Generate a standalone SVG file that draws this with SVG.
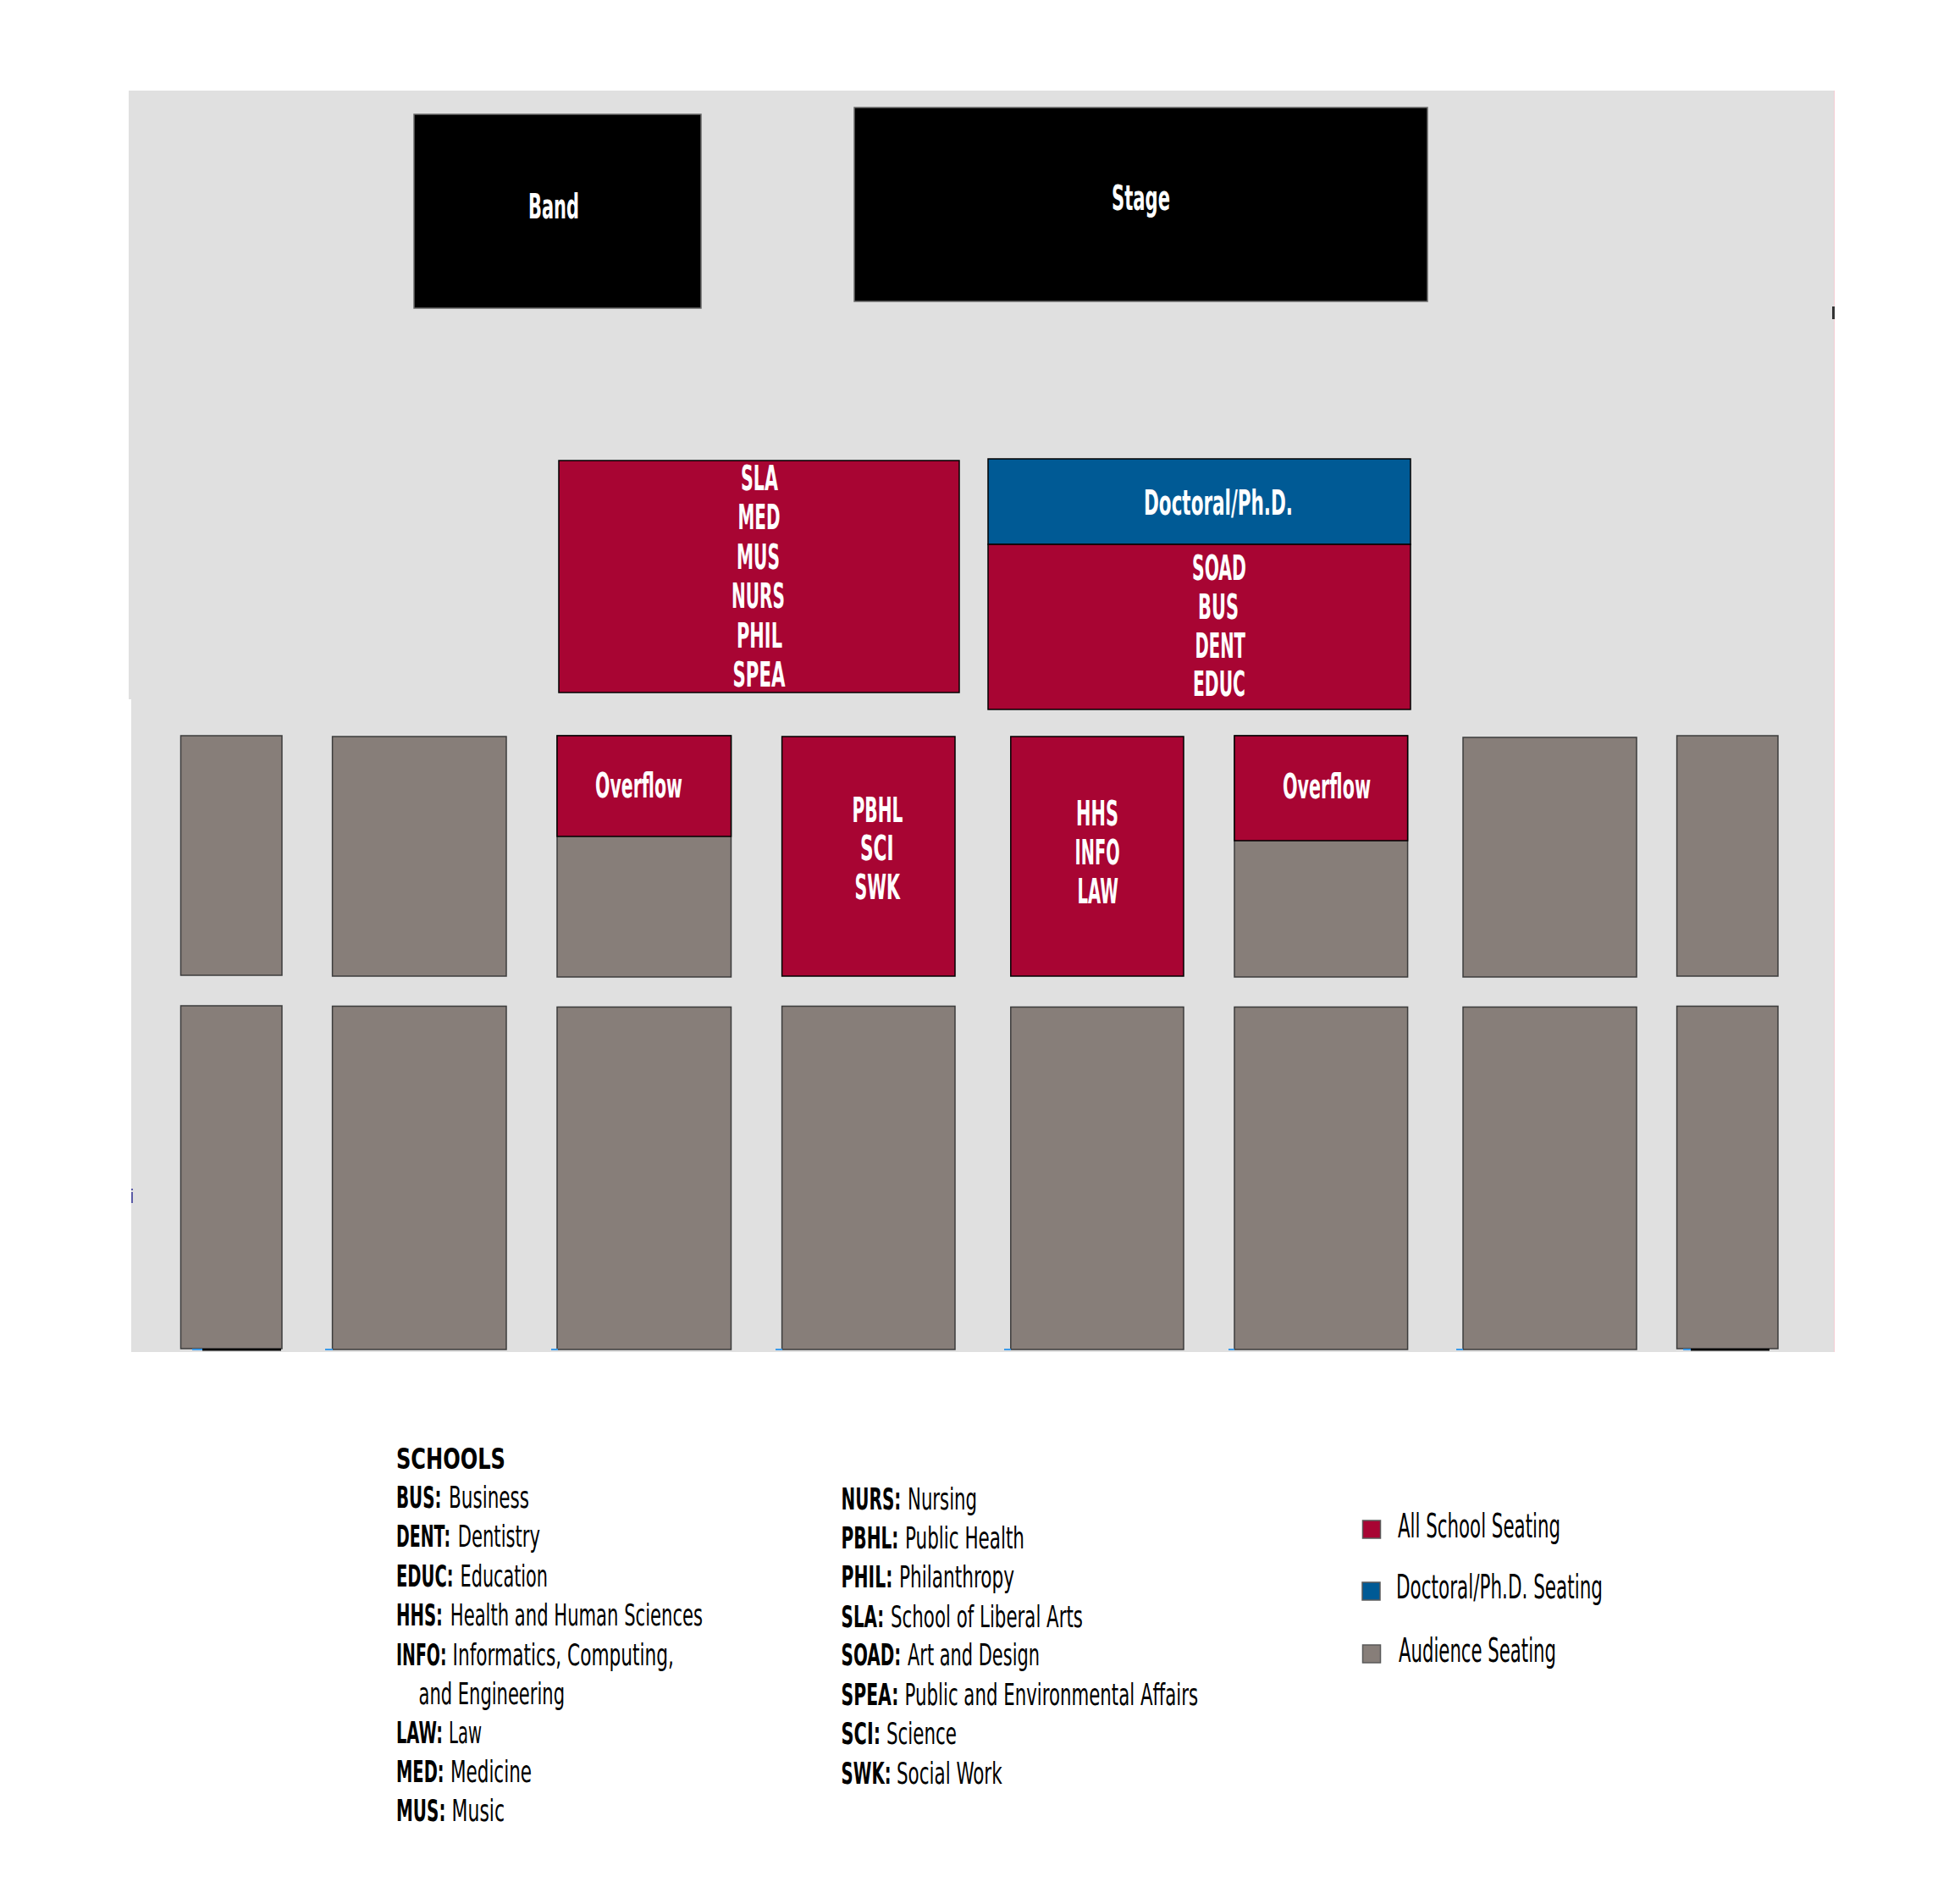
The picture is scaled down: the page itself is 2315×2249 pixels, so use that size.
<svg xmlns="http://www.w3.org/2000/svg" width="2315" height="2249" viewBox="0 0 2315 2249">
<style>
.lbl{font-family:"Liberation Sans Narrow","DejaVu Sans Condensed","Liberation Sans",sans-serif;font-weight:bold;fill:#ffffff;font-size:40px}
.b,.r{font-family:"Liberation Sans Narrow","DejaVu Sans Condensed","Liberation Sans",sans-serif;fill:#000000;font-size:24px}
.b{font-weight:bold}
.seat{font-family:"Liberation Sans Narrow","DejaVu Sans Condensed","Liberation Sans",sans-serif;fill:#000000;font-size:39px}
.black{fill:#000000;stroke:#6a6a6a;stroke-width:1.5}
.red{fill:#a80533;stroke:#000000;stroke-width:1.5}
.blue{fill:#005a95;stroke:#000000;stroke-width:1.5}
.gray{fill:#877e79;stroke:#3c3c3c;stroke-width:1.5}
.tick{fill:#3d9be9}
.sq{stroke:#5a5a5a;stroke-width:1.5}
</style>
<rect x="0" y="0" width="2315" height="2249" fill="#ffffff"/>
<g id="floor">
<rect x="152" y="107" width="2014" height="719" fill="#e0e0e0"/>
<rect x="155" y="826" width="2011" height="771" fill="#e0e0e0"/>
<line x1="2166.5" y1="107" x2="2166.5" y2="1597" stroke="#f4cdd3" stroke-width="1"/>
<rect x="2164" y="362" width="3" height="15" fill="#333333"/>
<rect x="155" y="1404" width="2" height="2" fill="#5b5ba6"/>
<rect x="155" y="1408" width="2" height="13" fill="#5b5ba6"/>
</g>
<g id="band">
<rect class="black" x="489" y="135" width="339" height="229"/>
<text class="lbl" x="624" y="258" textLength="60" lengthAdjust="spacingAndGlyphs">Band</text>
</g>
<g id="stage">
<rect class="black" x="1009" y="127" width="677" height="229"/>
<text class="lbl" x="1313" y="248" textLength="69" lengthAdjust="spacingAndGlyphs">Stage</text>
</g>
<g id="sla-block">
<rect class="red" x="660" y="544" width="473" height="274"/>
<text class="lbl" x="875" y="579" textLength="44" lengthAdjust="spacingAndGlyphs">SLA</text>
<text class="lbl" x="871.5" y="625" textLength="50" lengthAdjust="spacingAndGlyphs">MED</text>
<text class="lbl" x="870" y="672" textLength="51" lengthAdjust="spacingAndGlyphs">MUS</text>
<text class="lbl" x="864" y="718" textLength="63" lengthAdjust="spacingAndGlyphs">NURS</text>
<text class="lbl" x="870" y="765" textLength="54" lengthAdjust="spacingAndGlyphs">PHIL</text>
<text class="lbl" x="865.5" y="811" textLength="62" lengthAdjust="spacingAndGlyphs">SPEA</text>
</g>
<g id="doctoral-block">
<rect class="blue" x="1167" y="542" width="499" height="101"/>
<text class="lbl" x="1351" y="608" textLength="176" lengthAdjust="spacingAndGlyphs">Doctoral/Ph.D.</text>
<rect class="red" x="1167" y="643" width="499" height="195"/>
<text class="lbl" x="1408" y="685" textLength="64" lengthAdjust="spacingAndGlyphs">SOAD</text>
<text class="lbl" x="1415" y="731" textLength="48" lengthAdjust="spacingAndGlyphs">BUS</text>
<text class="lbl" x="1411.5" y="777" textLength="59.5" lengthAdjust="spacingAndGlyphs">DENT</text>
<text class="lbl" x="1409" y="822" textLength="62" lengthAdjust="spacingAndGlyphs">EDUC</text>
</g>
<g id="row1-sec1"><rect class="gray" x="213.5" y="869" width="119.5" height="283"/></g>
<g id="row1-sec2"><rect class="gray" x="392.6" y="870" width="205.4" height="283"/></g>
<g id="row1-sec3">
<rect class="gray" x="658" y="869" width="205.5" height="285"/>
<rect class="red" x="658" y="869" width="205.5" height="119"/>
<text class="lbl" x="703" y="942" textLength="103" lengthAdjust="spacingAndGlyphs">Overflow</text>
</g>
<g id="row1-sec4">
<rect class="red" x="923.6" y="870" width="204.4" height="283"/>
<text class="lbl" x="1006.5" y="971" textLength="60" lengthAdjust="spacingAndGlyphs">PBHL</text>
<text class="lbl" x="1016" y="1016" textLength="39.6" lengthAdjust="spacingAndGlyphs">SCI</text>
<text class="lbl" x="1009.5" y="1062" textLength="53.5" lengthAdjust="spacingAndGlyphs">SWK</text>
</g>
<g id="row1-sec5">
<rect class="red" x="1193.8" y="870" width="204.2" height="283"/>
<text class="lbl" x="1271" y="975" textLength="50" lengthAdjust="spacingAndGlyphs">HHS</text>
<text class="lbl" x="1269.6" y="1021" textLength="53" lengthAdjust="spacingAndGlyphs">INFO</text>
<text class="lbl" x="1272.6" y="1067" textLength="48.4" lengthAdjust="spacingAndGlyphs">LAW</text>
</g>
<g id="row1-sec6">
<rect class="gray" x="1458" y="869" width="204.6" height="285"/>
<rect class="red" x="1458" y="869" width="204.6" height="124"/>
<text class="lbl" x="1515" y="943" textLength="104" lengthAdjust="spacingAndGlyphs">Overflow</text>
</g>
<g id="row1-sec7"><rect class="gray" x="1728" y="871" width="205" height="283"/></g>
<g id="row1-sec8"><rect class="gray" x="1980.6" y="869" width="119.4" height="284"/></g>
<g id="row2-sec1"><rect class="gray" x="213.5" y="1188" width="119.5" height="405"/></g>
<g id="row2-sec2"><rect class="gray" x="392.6" y="1188.5" width="205.4" height="405.5"/></g>
<g id="row2-sec3"><rect class="gray" x="658" y="1189.5" width="205.5" height="404.5"/></g>
<g id="row2-sec4"><rect class="gray" x="923.6" y="1188.5" width="204.4" height="405.5"/></g>
<g id="row2-sec5"><rect class="gray" x="1193.8" y="1189.5" width="204.2" height="404.5"/></g>
<g id="row2-sec6"><rect class="gray" x="1458" y="1189.5" width="204.6" height="404.5"/></g>
<g id="row2-sec7"><rect class="gray" x="1728" y="1189.5" width="205" height="404.5"/></g>
<g id="row2-sec8"><rect class="gray" x="1980.6" y="1188.5" width="119.4" height="404.5"/></g>
<g id="edge-marks">
<rect class="tick" x="227" y="1593" width="12" height="2"/>
<rect x="239" y="1593" width="93" height="2.5" fill="#000000"/>
<rect class="tick" x="384" y="1593" width="9" height="2"/>
<rect class="tick" x="651" y="1593" width="8" height="2"/>
<rect class="tick" x="916" y="1593" width="8" height="2"/>
<rect class="tick" x="1186" y="1593" width="8" height="2"/>
<rect class="tick" x="1451" y="1593" width="7" height="2"/>
<rect class="tick" x="1720" y="1593" width="8" height="2"/>
<rect class="tick" x="1988" y="1593" width="9" height="2"/>
<rect x="1997" y="1593" width="93" height="2.5" fill="#000000"/>
</g>
<g id="connectors"></g>
<g id="legend-schools">
<text class="b" x="468" y="1735" font-size="36" transform="matrix(1 0 0 1.38 0 -659.3)" textLength="129" lengthAdjust="spacingAndGlyphs">SCHOOLS</text>
<text class="b" x="468" y="1781" transform="matrix(1 0 0 1.5 0 -890.5)" textLength="53.4" lengthAdjust="spacingAndGlyphs">BUS:</text>
<text class="r" x="530" y="1781" transform="matrix(1 0 0 1.5 0 -890.5)" textLength="95" lengthAdjust="spacingAndGlyphs">Business</text>
<text class="b" x="468" y="1827.5" transform="matrix(1 0 0 1.5 0 -913.75)" textLength="64" lengthAdjust="spacingAndGlyphs">DENT:</text>
<text class="r" x="540.7" y="1827.5" transform="matrix(1 0 0 1.5 0 -913.75)" textLength="97.3" lengthAdjust="spacingAndGlyphs">Dentistry</text>
<text class="b" x="468" y="1874.5" transform="matrix(1 0 0 1.5 0 -937.25)" textLength="67.7" lengthAdjust="spacingAndGlyphs">EDUC:</text>
<text class="r" x="543.6" y="1874.5" transform="matrix(1 0 0 1.5 0 -937.25)" textLength="103.4" lengthAdjust="spacingAndGlyphs">Education</text>
<text class="b" x="468" y="1920.5" transform="matrix(1 0 0 1.5 0 -960.25)" textLength="55" lengthAdjust="spacingAndGlyphs">HHS:</text>
<text class="r" x="531.8" y="1920.5" transform="matrix(1 0 0 1.5 0 -960.25)" textLength="298.2" lengthAdjust="spacingAndGlyphs">Health and Human Sciences</text>
<text class="b" x="468" y="1967" transform="matrix(1 0 0 1.5 0 -983.5)" textLength="59.5" lengthAdjust="spacingAndGlyphs">INFO:</text>
<text class="r" x="534.6" y="1967" transform="matrix(1 0 0 1.5 0 -983.5)" textLength="261.4" lengthAdjust="spacingAndGlyphs">Informatics, Computing,</text>
<text class="r" x="494.5" y="2013" transform="matrix(1 0 0 1.5 0 -1006.5)" textLength="172.5" lengthAdjust="spacingAndGlyphs">and Engineering</text>
<text class="b" x="468" y="2059.5" transform="matrix(1 0 0 1.5 0 -1029.75)" textLength="55" lengthAdjust="spacingAndGlyphs">LAW:</text>
<text class="r" x="530" y="2059.5" transform="matrix(1 0 0 1.5 0 -1029.75)" textLength="39" lengthAdjust="spacingAndGlyphs">Law</text>
<text class="b" x="468" y="2105.5" transform="matrix(1 0 0 1.5 0 -1052.75)" textLength="56.6" lengthAdjust="spacingAndGlyphs">MED:</text>
<text class="r" x="532" y="2105.5" transform="matrix(1 0 0 1.5 0 -1052.75)" textLength="96" lengthAdjust="spacingAndGlyphs">Medicine</text>
<text class="b" x="468" y="2151.5" transform="matrix(1 0 0 1.5 0 -1075.75)" textLength="58.4" lengthAdjust="spacingAndGlyphs">MUS:</text>
<text class="r" x="533.6" y="2151.5" transform="matrix(1 0 0 1.5 0 -1075.75)" textLength="62.4" lengthAdjust="spacingAndGlyphs">Music</text>
<text class="b" x="993.6" y="1783.5" transform="matrix(1 0 0 1.5 0 -891.75)" textLength="70.7" lengthAdjust="spacingAndGlyphs">NURS:</text>
<text class="r" x="1072" y="1783.5" transform="matrix(1 0 0 1.5 0 -891.75)" textLength="82" lengthAdjust="spacingAndGlyphs">Nursing</text>
<text class="b" x="993.6" y="1829" transform="matrix(1 0 0 1.5 0 -914.5)" textLength="67.8" lengthAdjust="spacingAndGlyphs">PBHL:</text>
<text class="r" x="1069" y="1829" transform="matrix(1 0 0 1.5 0 -914.5)" textLength="141" lengthAdjust="spacingAndGlyphs">Public Health</text>
<text class="b" x="993.6" y="1875.5" transform="matrix(1 0 0 1.5 0 -937.75)" textLength="60.7" lengthAdjust="spacingAndGlyphs">PHIL:</text>
<text class="r" x="1062" y="1875.5" transform="matrix(1 0 0 1.5 0 -937.75)" textLength="136" lengthAdjust="spacingAndGlyphs">Philanthropy</text>
<text class="b" x="993.6" y="1922" transform="matrix(1 0 0 1.5 0 -961)" textLength="50.7" lengthAdjust="spacingAndGlyphs">SLA:</text>
<text class="r" x="1052" y="1922" transform="matrix(1 0 0 1.5 0 -961)" textLength="227" lengthAdjust="spacingAndGlyphs">School of Liberal Arts</text>
<text class="b" x="993.6" y="1967.5" transform="matrix(1 0 0 1.5 0 -983.75)" textLength="70.7" lengthAdjust="spacingAndGlyphs">SOAD:</text>
<text class="r" x="1072" y="1967.5" transform="matrix(1 0 0 1.5 0 -983.75)" textLength="156" lengthAdjust="spacingAndGlyphs">Art and Design</text>
<text class="b" x="993.6" y="2014.5" transform="matrix(1 0 0 1.5 0 -1007.25)" textLength="67.8" lengthAdjust="spacingAndGlyphs">SPEA:</text>
<text class="r" x="1068.6" y="2014.5" transform="matrix(1 0 0 1.5 0 -1007.25)" textLength="346.4" lengthAdjust="spacingAndGlyphs">Public and Environmental Affairs</text>
<text class="b" x="993.6" y="2060" transform="matrix(1 0 0 1.5 0 -1030)" textLength="46.4" lengthAdjust="spacingAndGlyphs">SCI:</text>
<text class="r" x="1047" y="2060" transform="matrix(1 0 0 1.5 0 -1030)" textLength="83" lengthAdjust="spacingAndGlyphs">Science</text>
<text class="b" x="993.6" y="2107" transform="matrix(1 0 0 1.5 0 -1053.5)" textLength="58.9" lengthAdjust="spacingAndGlyphs">SWK:</text>
<text class="r" x="1059" y="2107" transform="matrix(1 0 0 1.5 0 -1053.5)" textLength="124.6" lengthAdjust="spacingAndGlyphs">Social Work</text>
</g>
<g id="legend-seating">
<rect class="sq" x="1609.5" y="1796" width="21" height="21" fill="#a80533"/>
<text class="seat" x="1651" y="1816" textLength="192" lengthAdjust="spacingAndGlyphs">All School Seating</text>
<rect class="sq" x="1609" y="1869" width="21" height="21" fill="#005a95"/>
<text class="seat" x="1649" y="1888" textLength="244" lengthAdjust="spacingAndGlyphs">Doctoral/Ph.D. Seating</text>
<rect class="sq" x="1609.5" y="1943" width="21" height="21" fill="#877e79"/>
<text class="seat" x="1652" y="1963" textLength="186" lengthAdjust="spacingAndGlyphs">Audience Seating</text>
</g>
</svg>
